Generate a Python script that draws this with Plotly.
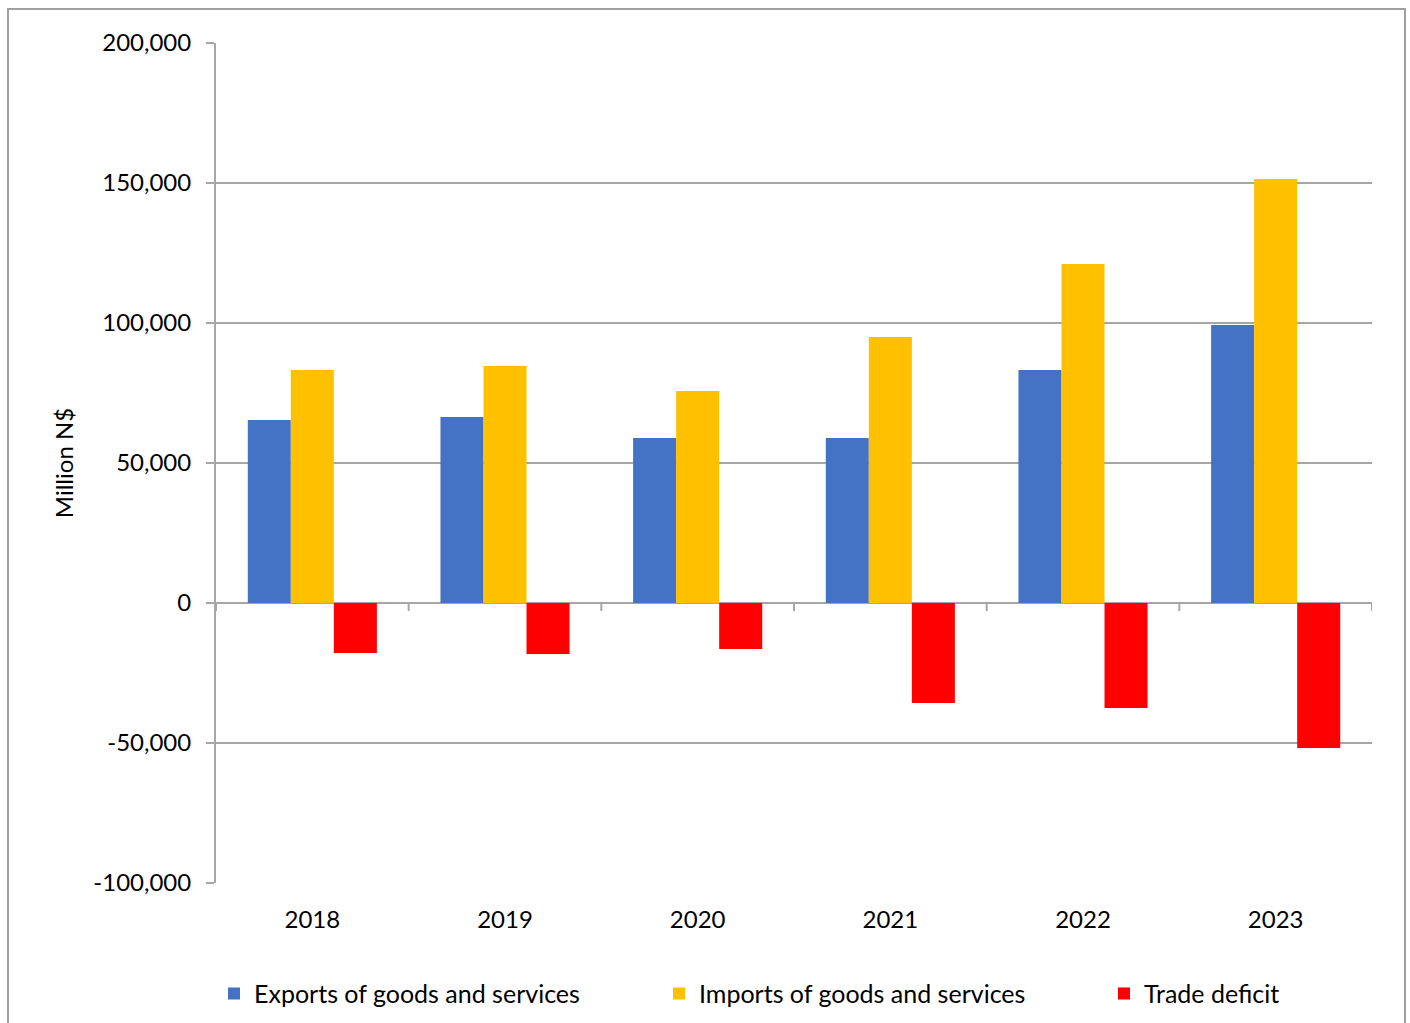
import plotly.graph_objects as go

years = ["2018", "2019", "2020", "2021", "2022", "2023"]
exports = [65400, 66400, 58900, 58900, 83200, 99300]
imports = [83200, 84600, 75700, 95000, 121100, 151400]
deficit = [-17900, -18200, -16400, -35700, -37500, -51800]
series_names = ["Exports of goods and services", "Imports of goods and services", "Trade deficit"]
colors = ["#4472C4", "#FFC000", "#FF0000"]
y_ticks = [-100000, -50000, 0, 50000, 100000, 150000, 200000]

FONT = "Lato"
fig = go.Figure()
for name, vals, col in zip(series_names, [exports, imports, deficit], colors):
    fig.add_trace(go.Bar(x=years, y=vals, name=name, marker_color=col, marker_line_width=0))

L, R, T, B = 216, 38, 43, 140
W, H = 1410, 1023
pw, ph = W - L - R, H - T - B

shapes = []
for i in range(len(years) + 1):
    shapes.append(dict(type="line", xref="x", yref="y", x0=i - 0.5, x1=i - 0.5,
                       ysizemode="pixel", yanchor=0, y0=0, y1=-8,
                       line=dict(color="#a6a6a6", width=2)))
shapes.append(dict(type="rect", xref="paper", yref="paper",
                   x0=(8 - L) / pw, x1=(1405 - L) / pw,
                   y0=(T + ph - 1040) / ph, y1=(T + ph - 9) / ph,
                   line=dict(color="#a0a0a0", width=2), fillcolor="rgba(0,0,0,0)", layer="below"))

fig.update_layout(
    width=W, height=H,
    margin=dict(l=L, r=R, t=T, b=B, autoexpand=False),
    paper_bgcolor="white", plot_bgcolor="white",
    font=dict(family=FONT, size=24, color="black"),
    barmode="group", bargap=0.33, bargroupgap=0,
    showlegend=True,
    legend=dict(orientation="h", x=(214 - L) / pw, xanchor="left", y=-0.1044, yanchor="top",
                font=dict(family=FONT, size=25, color="black"), bgcolor="rgba(0,0,0,0)",
                entrywidth=400, entrywidthmode="pixels", traceorder="normal"),
    xaxis=dict(type="category", range=[-0.5, 5.5], showline=False, showgrid=False,
               ticks="", ticklabelstandoff=20, tickfont=dict(size=24)),
    yaxis=dict(range=[-100000, 200000], tickvals=y_ticks,
               ticktext=[f"{v:,}" for v in y_ticks],
               showgrid=True, gridcolor="#a6a6a6", gridwidth=1.5,
               zeroline=True, zerolinecolor="#a6a6a6", zerolinewidth=2,
               showline=True, linecolor="#a6a6a6", linewidth=2,
               ticks="outside", ticklen=8, tickcolor="#a6a6a6", tickwidth=2,
               ticklabelstandoff=10,
               title=dict(text="Million N$", font=dict(size=24), standoff=13)),
    shapes=shapes,
)

fig.write_html("out.html")
